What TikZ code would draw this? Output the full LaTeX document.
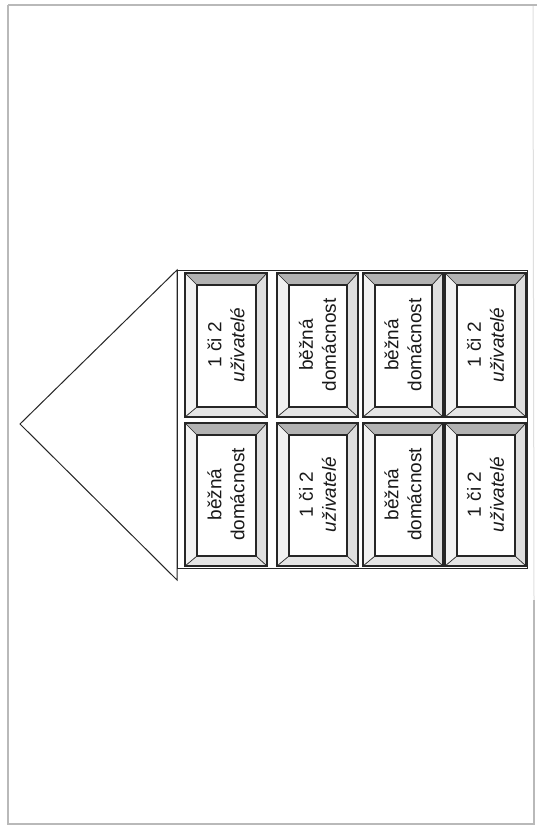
\documentclass[tikz,border=0pt]{standalone}
\usepackage{fontspec}
\setmainfont{Liberation Sans}
\tikzset{
  pageframe/.style={draw=gray!55, line width=1.3pt},
  faintframe/.style={draw=gray!25, line width=1pt},
  houseline/.style={draw=black!85, line width=1pt},
  winline/.style={draw=black!85, line width=1.2pt},
  wintext/.style={rotate=90, align=center, font=\fontsize{19}{23}\selectfont, text=black!90},
}
\newcommand\mywin[7]{%
  \fill[gray!10] (#2,#3) rectangle (#4,#5);
  \fill[gray!60] (#2,#3) -- (#4,#3) -- (#4-11,#3+12) -- (#2+12,#3+12) -- cycle;
  \fill[gray!25] (#4,#3) -- (#4,#5) -- (#4-11,#5-10) -- (#4-11,#3+12) -- cycle;
  \fill[gray!20] (#2,#5) -- (#4,#5) -- (#4-11,#5-10) -- (#2+12,#5-10) -- cycle;
  \fill[white] (#2+12,#3+12) rectangle (#4-11,#5-10);
  \draw[winline] (#2,#3) rectangle (#4,#5);
  \draw[winline] (#2+12,#3+12) rectangle (#4-11,#5-10);
  \draw[winline, line width=0.7pt] (#2,#3) -- (#2+12,#3+12) (#4,#3) -- (#4-11,#3+12)
     (#2,#5) -- (#2+12,#5-10) (#4,#5) -- (#4-11,#5-10);
  \node[wintext] (#1) at ({(#2+#4)/2},{(#3+#5)/2}) {#6\\#7};
}
\begin{document}
\begin{tikzpicture}[x=1pt,y=-1pt]
\useasboundingbox (0,0) rectangle (537,827);
\fill[white] (0,0) rectangle (537,827);
% page frame
\draw[faintframe] (533,5) -- (534,600);
\draw[pageframe] (8,5) -- (537,5);
\draw[pageframe] (8,5) -- (8,824) -- (534,824) -- (534,600);
% roof and wall
\draw[houseline] (177,270) -- (20,424) -- (177,580) -- cycle;
\draw[houseline] (177,270) rectangle (527,568);
% windows
\mywin{w11}{185}{273}{267}{417}{1 či 2}{\textit{uživatelé}}
\mywin{w12}{277}{273}{358}{417}{běžná}{domácnost}
\mywin{w13}{363}{273}{443}{417}{běžná}{domácnost}
\mywin{w14}{445}{273}{526}{417}{1 či 2}{\textit{uživatelé}}
\mywin{w21}{185}{423}{267}{566}{běžná}{domácnost}
\mywin{w22}{277}{423}{358}{566}{1 či 2}{\textit{uživatelé}}
\mywin{w23}{363}{423}{443}{566}{běžná}{domácnost}
\mywin{w24}{445}{423}{526}{566}{1 či 2}{\textit{uživatelé}}
\end{tikzpicture}
\end{document}
